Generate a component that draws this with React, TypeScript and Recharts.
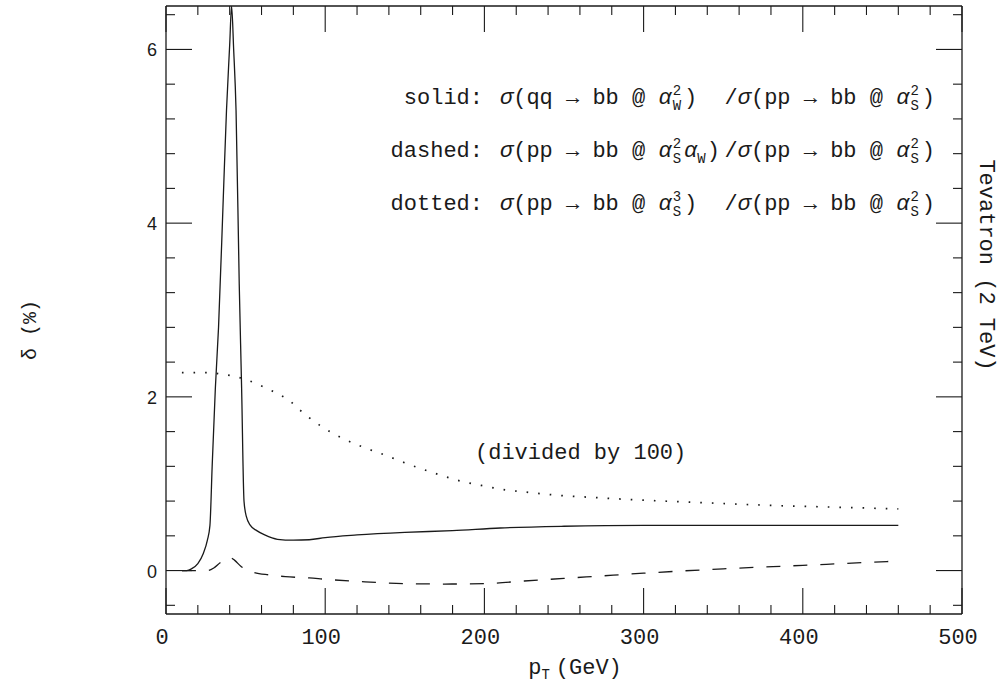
import { LineChart, Line, XAxis, YAxis } from 'recharts';

// p_T (GeV) and delta (%)
const solidPt = [10, 13, 16, 20, 23.5, 26, 27.6, 29, 31, 33, 36, 38, 40, 41.2, 42.5, 44, 46, 47.5, 49, 50.5, 53, 57, 62, 70, 80, 90, 100, 120, 150, 180, 210, 250, 300, 350, 400, 460];
const solidDelta = [0, 0, 0.02, 0.08, 0.2, 0.35, 0.52, 1.2, 2.1, 2.8, 4.3, 5.3, 6.05, 6.5, 6.0, 5.3, 3.3, 2.1, 0.8, 0.62, 0.52, 0.46, 0.41, 0.36, 0.35, 0.355, 0.38, 0.41, 0.44, 0.46, 0.49, 0.51, 0.52, 0.52, 0.52, 0.52];

const dashPt = [10, 20, 26, 30, 34, 38, 40, 43, 47, 55, 65, 75, 90, 100, 125, 150, 175, 200, 225, 250, 275, 300, 350, 400, 460];
const dashDelta = [0, 0, 0, 0.03, 0.09, 0.14, 0.15, 0.12, 0.05, -0.02, -0.05, -0.07, -0.085, -0.1, -0.13, -0.15, -0.155, -0.15, -0.12, -0.09, -0.06, -0.03, 0.02, 0.06, 0.11];

const dotPt = [10, 20, 27, 35, 42, 50, 57, 64, 71, 78, 84, 90, 96, 103, 110, 124, 139, 153, 169, 183, 198, 213, 228, 244, 270, 300, 340, 380, 420, 460];
const dotDelta = [2.28, 2.28, 2.28, 2.26, 2.24, 2.2, 2.15, 2.09, 2.03, 1.95, 1.85, 1.76, 1.68, 1.6, 1.53, 1.42, 1.32, 1.22, 1.12, 1.04, 0.98, 0.93, 0.9, 0.87, 0.84, 0.81, 0.78, 0.75, 0.73, 0.71];

const xTicks = [0, 20, 40, 60, 80, 100, 120, 140, 160, 180, 200, 220, 240, 260, 280, 300, 320, 340, 360, 380, 400, 420, 440, 460, 480, 500];
const yTicks = [-0.4, 0, 0.4, 0.8, 1.2, 1.6, 2, 2.4, 2.8, 3.2, 3.6, 4, 4.4, 4.8, 5.2, 5.6, 6, 6.4];

const toRows = (xs: number[], ys: number[]) => xs.map((x, i) => ({ x, y: ys[i] }));

const INK = '#1a1a1a';
const MAJOR = 26;
const MINOR = 9;
const isMajorX = (v: number) => v % 100 === 0;
const isMajorY = (v: number) => Math.abs(v % 2) < 1e-6;

const BottomTick = ({ x, y, payload }: any) => {
  const major = isMajorX(payload.value);
  return (
    <g>
      <line x1={x} x2={x} y1={y} y2={y - (major ? MAJOR : MINOR)} stroke={INK} strokeWidth={1.1} />
      {major && (
        <text x={x - 4} y={y + 30} textAnchor="middle" fontFamily="Liberation Mono" fontSize={22} fill={INK}>
          {payload.value}
        </text>
      )}
    </g>
  );
};

const TopTick = ({ x, y, payload }: any) => (
  <line x1={x} x2={x} y1={y} y2={y + (isMajorX(payload.value) ? MAJOR : MINOR)} stroke={INK} strokeWidth={1.1} />
);

const LeftTick = ({ x, y, payload }: any) => {
  const major = isMajorY(payload.value);
  return (
    <g>
      <line x1={x} x2={x + (major ? MAJOR : MINOR)} y1={y} y2={y} stroke={INK} strokeWidth={1.1} />
      {major && (
        <text x={x - 9} y={y + 7} textAnchor="end" fontFamily="Liberation Sans" fontSize={18} fill={INK}>
          {Math.round(payload.value)}
        </text>
      )}
    </g>
  );
};

const RightTick = ({ x, y, payload }: any) => (
  <line x1={x} x2={x - (isMajorY(payload.value) ? MAJOR : MINOR)} y1={y} y2={y} stroke={INK} strokeWidth={1.1} />
);

const FS = 22;
const SS = 14;
const SA = SS * 0.6;

// alpha with stacked superscript / subscript
const Alpha = ({ sup, sub }: { sup: string; sub: string }) => (
  <>
    <tspan fontStyle="italic">α</tspan>
    <tspan fontSize={SS} dx={1} dy={-9}>{sup}</tspan>
    <tspan fontSize={SS} dx={-SA} dy={15}>{sub}</tspan>
  </>
);

export default function App() {
  const axisLine = { stroke: INK, strokeWidth: 1.3 };
  const textProps = { fontFamily: 'Liberation Mono', fontSize: FS, fill: INK };
  return (
    <div style={{ position: 'absolute', left: 0, top: 0, width: 1002, height: 685, background: '#fff' }}>
      <LineChart width={1002} height={685} margin={{ top: 5, right: 39, bottom: 70, left: 165 }}>
        <XAxis xAxisId="b" dataKey="x" type="number" domain={[0, 500]} allowDataOverflow ticks={xTicks} interval={0}
          orientation="bottom" height={1} tickSize={0} tickMargin={0} tickLine={false} axisLine={axisLine} tick={BottomTick} />
        <XAxis xAxisId="t" dataKey="x" type="number" domain={[0, 500]} allowDataOverflow ticks={xTicks} interval={0}
          orientation="top" height={1} tickSize={0} tickMargin={0} tickLine={false} axisLine={axisLine} tick={TopTick} />
        <YAxis yAxisId="l" type="number" domain={[-0.5, 6.5]} allowDataOverflow ticks={yTicks} interval={0}
          orientation="left" width={1} tickSize={0} tickMargin={0} tickLine={false} axisLine={axisLine} tick={LeftTick} />
        <YAxis yAxisId="r" type="number" domain={[-0.5, 6.5]} allowDataOverflow ticks={yTicks} interval={0}
          orientation="right" width={1} tickSize={0} tickMargin={0} tickLine={false} axisLine={axisLine} tick={RightTick} />
        <Line xAxisId="b" yAxisId="l" data={toRows(dotPt, dotDelta)} dataKey="y" type="monotone" stroke={INK}
          strokeWidth={1.7} strokeDasharray="1.6 10" dot={false} isAnimationActive={false} />
        <Line xAxisId="b" yAxisId="l" data={toRows(dashPt, dashDelta)} dataKey="y" type="monotone" stroke={INK}
          strokeWidth={1.3} strokeDasharray="14 13" dot={false} isAnimationActive={false} />
        <Line xAxisId="b" yAxisId="l" data={toRows(solidPt, solidDelta)} dataKey="y" type="monotone" stroke={INK}
          strokeWidth={1.3} dot={false} isAnimationActive={false} />
      </LineChart>
      <svg width={1002} height={685} style={{ position: 'absolute', left: 0, top: 0, pointerEvents: 'none' }}>
        <g {...textProps}>
          <text x={483} y={104} textAnchor="end">solid:</text>
          <text x={500} y={104}>
            <tspan fontStyle="italic">σ</tspan>(qq → bb @ <Alpha sup="2" sub="W" />
            <tspan dx={3} dy={-6}>)</tspan>
          </text>
          <text x={935} y={104} textAnchor="end">
            /<tspan fontStyle="italic">σ</tspan>(pp → bb @ <Alpha sup="2" sub="S" />
            <tspan dx={3} dy={-6}>)</tspan>
          </text>

          <text x={483} y={157} textAnchor="end">dashed:</text>
          <text x={500} y={157}>
            <tspan fontStyle="italic">σ</tspan>(pp → bb @ <Alpha sup="2" sub="S" />
            <tspan dx={3} dy={-6} fontStyle="italic">α</tspan>
            <tspan fontSize={SS} dy={6}>W</tspan>
            <tspan dx={1} dy={-6}>)</tspan>
          </text>
          <text x={935} y={157} textAnchor="end">
            /<tspan fontStyle="italic">σ</tspan>(pp → bb @ <Alpha sup="2" sub="S" />
            <tspan dx={3} dy={-6}>)</tspan>
          </text>

          <text x={483} y={210} textAnchor="end">dotted:</text>
          <text x={500} y={210}>
            <tspan fontStyle="italic">σ</tspan>(pp → bb @ <Alpha sup="3" sub="S" />
            <tspan dx={3} dy={-6}>)</tspan>
          </text>
          <text x={935} y={210} textAnchor="end">
            /<tspan fontStyle="italic">σ</tspan>(pp → bb @ <Alpha sup="2" sub="S" />
            <tspan dx={3} dy={-6}>)</tspan>
          </text>

          <text x={475} y={459}>(divided by 100)</text>

          <text x={575} y={674} textAnchor="middle">
            p<tspan fontSize={SS} dy={5}>T</tspan>
            <tspan dx={6} dy={-5}>(GeV)</tspan>
          </text>

          <text transform="translate(36 330) rotate(-90)" textAnchor="middle" fontSize={20}>δ (%)</text>
          <text transform="translate(980 265) rotate(90)" textAnchor="middle">Tevatron (2 TeV)</text>
        </g>
      </svg>
    </div>
  );
}
